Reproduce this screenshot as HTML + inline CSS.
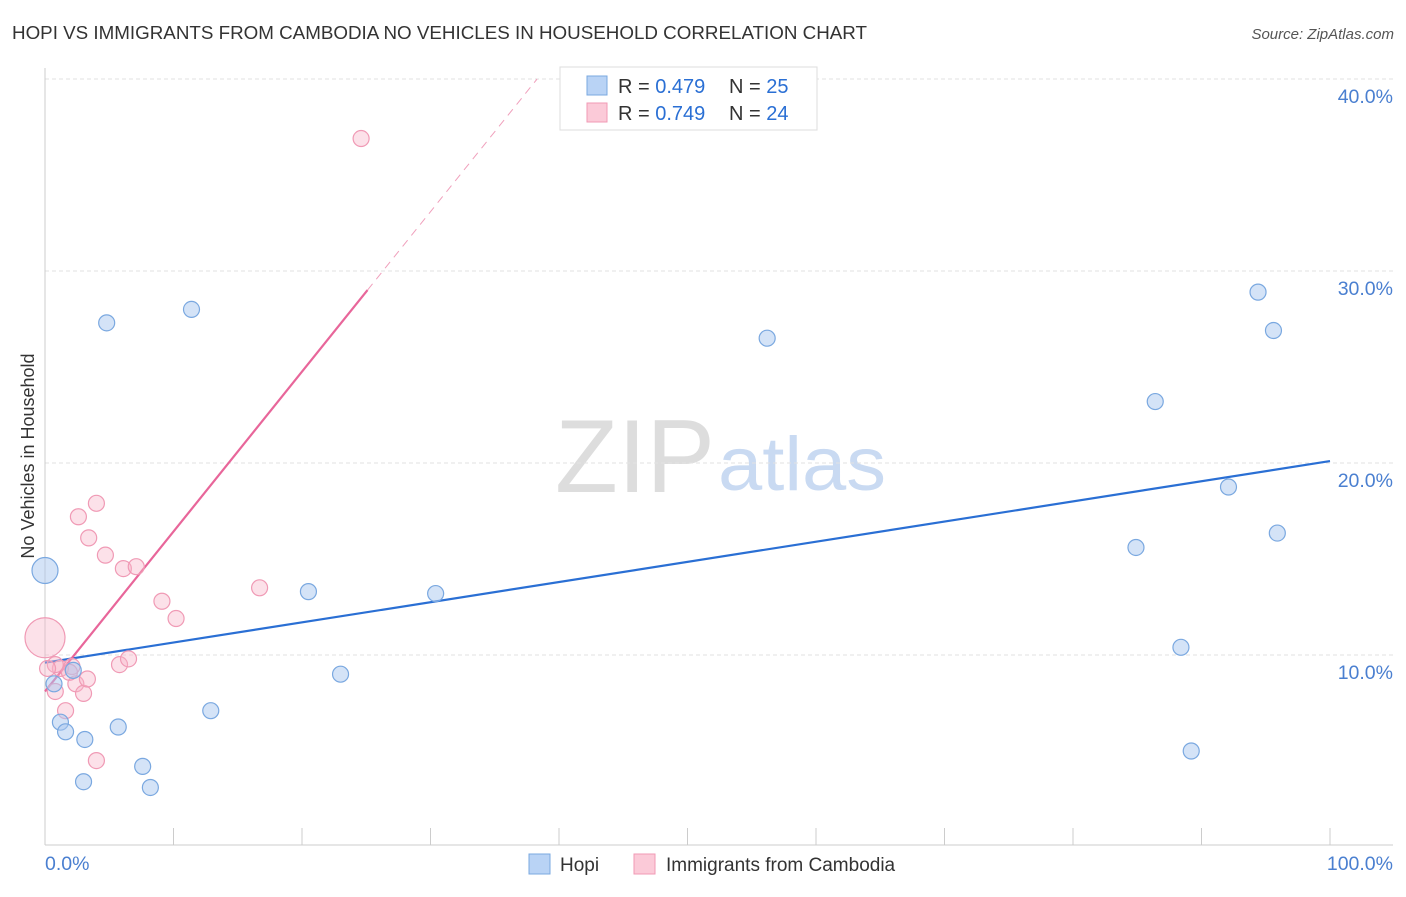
<!DOCTYPE html>
<html><head><meta charset="utf-8"><style>
body{margin:0;background:#fff;font-family:"Liberation Sans",sans-serif}
svg text{font-family:"Liberation Sans",sans-serif}
</style></head><body>
<svg width="1406" height="892" xmlns="http://www.w3.org/2000/svg" id="chart">
<text x="12" y="39" font-size="18.8" fill="#333">HOPI VS IMMIGRANTS FROM CAMBODIA NO VEHICLES IN HOUSEHOLD CORRELATION CHART</text>
<text x="1394" y="39" font-size="15" fill="#555" text-anchor="end" font-style="italic">Source: ZipAtlas.com</text>
<text x="555" y="492" font-size="104" textLength="160" lengthAdjust="spacingAndGlyphs" fill="#ddd" font-family="Liberation Serif">ZIP</text>
<text x="718" y="490" font-size="76" textLength="168" lengthAdjust="spacingAndGlyphs" fill="#c9daf2">atlas</text>
<text transform="translate(34,456) rotate(-90)" font-size="18" fill="#333" text-anchor="middle">No Vehicles in Household</text>
<g id="grid"></g><g id="axes"></g><g id="lines"></g><g id="pts"></g>
<g>
<rect x="560" y="67" width="257" height="63" fill="#fff" stroke="#ddd"/>
<rect x="587" y="76" width="20" height="19" fill="#b9d3f5" stroke="#7aa8e0"/>
<rect x="587" y="103" width="20" height="19" fill="#fbcad8" stroke="#f09ab5"/>
<text x="618" y="93" font-size="20" fill="#333">R = <tspan fill="#2a6fd4">0.479</tspan></text>
<text x="729" y="93" font-size="20" fill="#333">N = <tspan fill="#2a6fd4">25</tspan></text>
<text x="618" y="120" font-size="20" fill="#333">R = <tspan fill="#2a6fd4">0.749</tspan></text>
<text x="729" y="120" font-size="20" fill="#333">N = <tspan fill="#2a6fd4">24</tspan></text>
</g>
<g>
<rect x="529" y="854" width="21" height="20" fill="#b9d3f5" stroke="#7aa8e0"/>
<text x="560" y="871" font-size="19" fill="#333">Hopi</text>
<rect x="634" y="854" width="21" height="20" fill="#fbcad8" stroke="#f09ab5"/>
<text x="666" y="871" font-size="19" fill="#333">Immigrants from Cambodia</text>
</g>
</svg>
<script>
const hopiX=[0,0.7,1.2,1.6,2.2,3.1,3.0,4.8,5.7,7.6,8.2,11.4,12.9,20.5,23.0,30.4,56.2,84.9,86.4,88.4,89.2,92.1,94.4,95.6,95.9];
const hopiY=[14.4,8.5,6.5,6.0,9.2,5.6,3.4,27.3,6.25,4.2,3.1,28.0,7.1,13.3,9.0,13.2,26.5,15.6,23.2,10.4,5.0,18.75,28.9,26.9,16.35];
const hopiR=[13,8,8,8,8,8,8,8,8,8,8,8,8,8,8,8,8,8,8,8,8,8,8,8,8];
const camX=[0,0.8,1.2,1.6,2.1,2.4,2.6,3.0,3.4,3.3,4.0,4.0,4.7,5.8,6.1,6.5,7.1,9.1,10.2,16.7,24.6,1.9,0.8,0.2];
const camY=[10.9,8.1,9.3,7.1,9.4,8.5,17.2,8.0,16.1,8.75,4.5,17.9,15.2,9.5,14.5,9.8,14.6,12.8,11.9,13.5,36.9,9.1,9.5,9.3];
const camR=[20,8,8,8,8,8,8,8,8,8,8,8,8,8,8,8,8,8,8,8,8,8,8,8];
const yTicks=[10,20,30,40];
const yTickLabels=["10.0%","20.0%","30.0%","40.0%"];
const hopiTrend=[9.6,20.1];
const camTrend=[8.1,0.833];
const NS="http://www.w3.org/2000/svg";
const sx=v=>45+v*12.85, sy=v=>847-v*19.2;
function mk(t,a,p){const e=document.createElementNS(NS,t);for(const k in a)e.setAttribute(k,a[k]);document.getElementById(p).appendChild(e);return e;}
yTicks.forEach((t,i)=>{
 const g=mk('line',{x1:45,x2:1393,y1:sy(t),y2:sy(t),stroke:'#e2e2e2','stroke-dasharray':'4 3'},'grid');
 
 
 const l=mk('text',{x:1393,y:sy(t)+24,'font-size':19.5,fill:'#4a7fd0','text-anchor':'end'},'grid');
 l.textContent=yTickLabels[i];
 
 
});
const xa=mk('line',{x1:45,x2:1393,y1:845,y2:845,stroke:'#ccc'},'axes');


const ya=mk('line',{x1:45,x2:45,y1:68,y2:845,stroke:'#ccc'},'axes');


for(let i=0;i<=10;i++){const t=mk('line',{x1:sx(i*10),x2:sx(i*10),y1:828,y2:845,stroke:'#ccc'},'axes');
 
 }
[["0.0%",45,'start'],["100.0%",1393,'end']].forEach(d=>{const t=mk('text',{x:d[1],y:870,'font-size':19.5,fill:'#4a7fd0','text-anchor':d[2]},'axes');t.textContent=d[0];
 
 });
const bl=mk('line',{x1:sx(0),y1:sy(hopiTrend[0]),x2:sx(100),y2:sy(hopiTrend[1]),stroke:'#2a6fd4','stroke-width':2.2},'lines');


const xe=25.1, xd=(40-camTrend[0])/camTrend[1];
const pl=mk('line',{x1:sx(0),y1:sy(camTrend[0]),x2:sx(xe),y2:sy(camTrend[0]+camTrend[1]*xe),stroke:'#e8669a','stroke-width':2.2},'lines');


const pd=mk('line',{x1:sx(xe),y1:sy(camTrend[0]+camTrend[1]*xe),x2:sx(xd),y2:sy(40),stroke:'#f0a0bc','stroke-width':1,'stroke-dasharray':'8 6'},'lines');


camX.forEach((x,i)=>{const c=mk('circle',{cx:sx(x),cy:sy(camY[i]),r:camR[i],fill:'rgba(248,180,200,0.4)',stroke:'#f09ab5','stroke-width':1.2},'pts');
 
 });
hopiX.forEach((x,i)=>{const c=mk('circle',{cx:sx(x),cy:sy(hopiY[i]),r:hopiR[i],fill:'rgba(170,200,240,0.5)',stroke:'#7aa8e0','stroke-width':1.2},'pts');
 
 });
</script>
</body></html>
